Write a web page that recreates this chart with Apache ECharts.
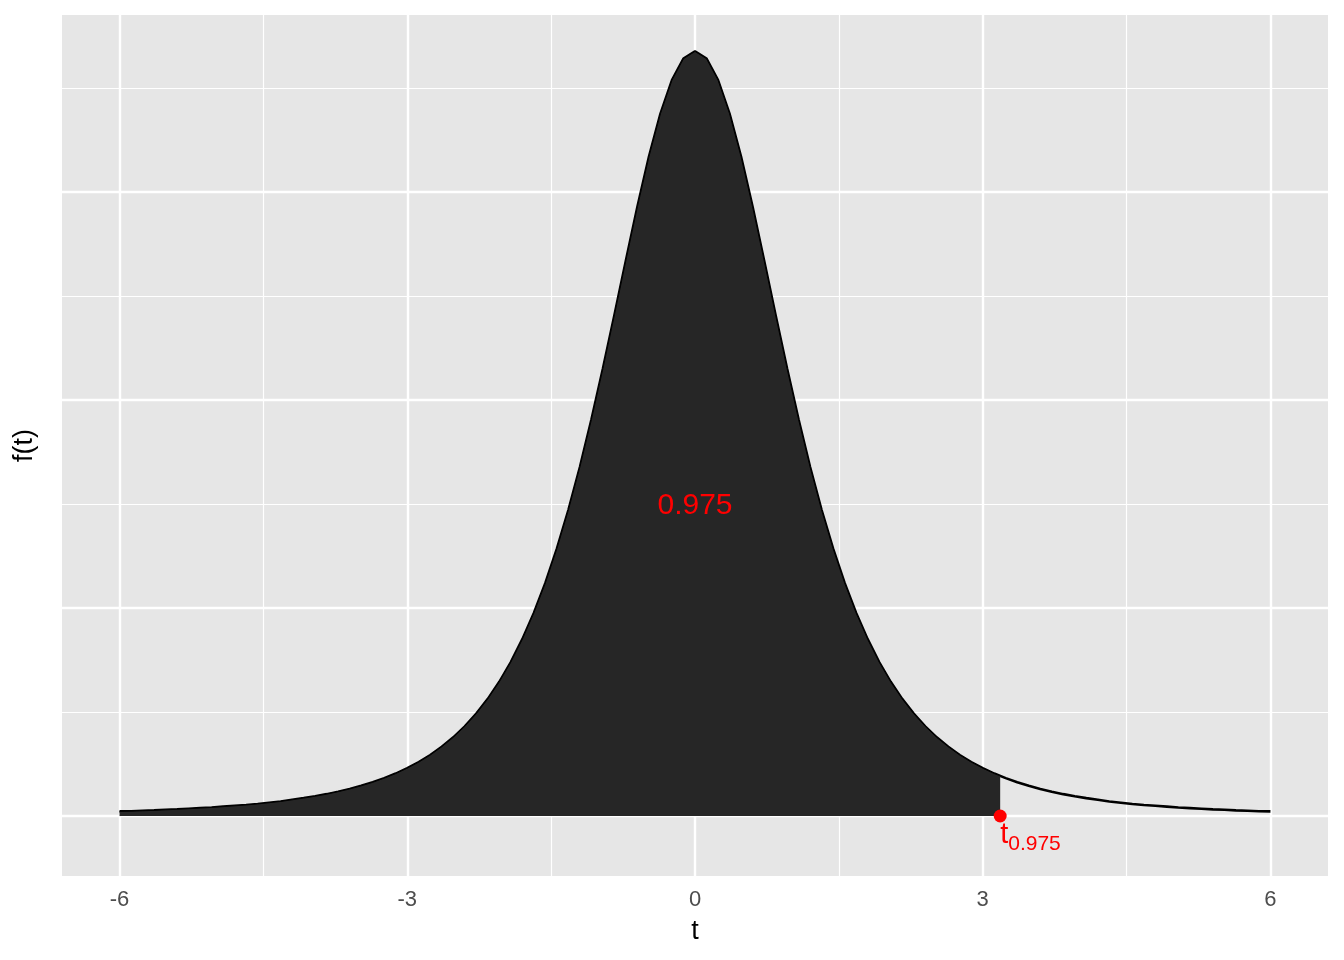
<!DOCTYPE html>
<html>
<head>
<meta charset="utf-8">
<script src="https://cdn.jsdelivr.net/npm/echarts@6/dist/echarts.min.js"></script>
<style>html,body{margin:0;padding:0;background:#fff}#c{width:1344px;height:960px}</style>
</head>
<body>
<div id="c"></div>
<script>
// t values (grid of the drawn curve)
const tValues = [-6.00,-5.88,-5.76,-5.64,-5.52,-5.40,-5.28,-5.16,-5.04,-4.92,-4.80,-4.68,-4.56,-4.44,-4.32,-4.20,-4.08,-3.96,-3.84,-3.72,-3.60,-3.48,-3.36,-3.24,-3.12,-3.00,-2.88,-2.76,-2.64,-2.52,-2.40,-2.28,-2.16,-2.04,-1.92,-1.80,-1.68,-1.56,-1.44,-1.32,-1.20,-1.08,-0.96,-0.84,-0.72,-0.60,-0.48,-0.36,-0.24,-0.12,0.00,0.12,0.24,0.36,0.48,0.60,0.72,0.84,0.96,1.08,1.20,1.32,1.44,1.56,1.68,1.80,1.92,2.04,2.16,2.28,2.40,2.52,2.64,2.76,2.88,3.00,3.12,3.24,3.36,3.48,3.60,3.72,3.84,3.96,4.08,4.20,4.32,4.44,4.56,4.68,4.80,4.92,5.04,5.16,5.28,5.40,5.52,5.64,5.76,5.88,6.00];
// density f(t)
const density = [0.0022,0.0023,0.0025,0.0027,0.0030,0.0032,0.0035,0.0038,0.0041,0.0045,0.0049,0.0053,0.0058,0.0064,0.0070,0.0078,0.0086,0.0095,0.0105,0.0117,0.0130,0.0145,0.0162,0.0182,0.0204,0.0230,0.0259,0.0293,0.0333,0.0378,0.0431,0.0492,0.0563,0.0645,0.0740,0.0850,0.0976,0.1120,0.1285,0.1471,0.1678,0.1906,0.2151,0.2409,0.2672,0.2930,0.3170,0.3377,0.3538,0.3641,0.3676,0.3641,0.3538,0.3377,0.3170,0.2930,0.2672,0.2409,0.2151,0.1906,0.1678,0.1471,0.1285,0.1120,0.0976,0.0850,0.0740,0.0645,0.0563,0.0492,0.0431,0.0378,0.0333,0.0293,0.0259,0.0230,0.0204,0.0182,0.0162,0.0145,0.0130,0.0117,0.0105,0.0095,0.0086,0.0078,0.0070,0.0064,0.0058,0.0053,0.0049,0.0045,0.0041,0.0038,0.0035,0.0032,0.0030,0.0027,0.0025,0.0023,0.0022];
// critical value and its density
const tCrit = 3.182;
const densityAtCrit = 0.0193;
const areaLabel = '0.975';
const areaLabelPos = [0, 0.149];
const critLabelSub = '0.975';
// axis breaks
const xTickLabels = [-6, -3, 0, 3, 6];
const xMinorBreaks = [-4.5, -1.5, 1.5, 4.5];
const yMajorBreaks = [0, 0.1, 0.2, 0.3];
const yMinorBreaks = [0.05, 0.15, 0.25, 0.35];

const curve = tValues.map((t, i) => [t, density[i]]);
const shaded = curve.filter(p => p[0] <= tCrit).concat([[tCrit, densityAtCrit]]);

const FONT = '"Liberation Sans", Arial, Helvetica, sans-serif';
const minorStyle = {color: '#ffffff', width: 1.2, type: 'solid'};
const majorStyle = {color: '#ffffff', width: 2.4, type: 'solid'};
const gridLines = []
  .concat(xMinorBreaks.map(v => ({xAxis: v, lineStyle: minorStyle})))
  .concat(yMinorBreaks.map(v => ({yAxis: v, lineStyle: minorStyle})))
  .concat(xTickLabels.map(v => ({xAxis: v, lineStyle: majorStyle})))
  .concat(yMajorBreaks.map(v => ({yAxis: v, lineStyle: majorStyle})));

const chart = echarts.init(document.getElementById('c'), null, {renderer: 'canvas'});
chart.setOption({
  animation: false,
  backgroundColor: '#ffffff',
  textStyle: {fontFamily: FONT},
  grid: {left: 62, right: 16, top: 15, bottom: 84, show: true, backgroundColor: '#e6e6e6', borderWidth: 0},
  xAxis: {
    type: 'value', min: -6.6, max: 6.6, interval: 0.6,
    name: 't', nameLocation: 'middle', nameGap: 42,
    nameTextStyle: {color: '#000000', fontSize: 27, fontFamily: FONT},
    axisLine: {show: false}, axisTick: {show: false}, splitLine: {show: false},
    axisLabel: {
      color: '#4d4d4d', fontSize: 22, margin: 13, fontFamily: FONT,
      formatter: v => { const m = xTickLabels.find(x => Math.abs(x - v) < 1e-6); return m === undefined ? '' : String(m); }
    }
  },
  yAxis: {
    type: 'value', min: -0.02885, max: 0.3851,
    name: 'f(t)', nameLocation: 'middle', nameGap: 24, nameRotate: 90,
    nameTextStyle: {color: '#000000', fontSize: 27, fontFamily: FONT},
    axisLine: {show: false}, axisTick: {show: false}, splitLine: {show: false},
    axisLabel: {show: false}
  },
  series: [
    {
      type: 'line', data: [], z: 1, zlevel: 0, silent: true,
      markLine: {silent: true, symbol: ['none', 'none'], label: {show: false}, animation: false, data: gridLines}
    },
    {
      type: 'line', data: curve, z: 2, zlevel: 1, symbol: 'none', smooth: false,
      lineStyle: {color: '#000000', width: 2.6}
    },
    {
      type: 'line', data: shaded, z: 3, zlevel: 1, symbol: 'none', smooth: false,
      lineStyle: {color: '#000000', width: 1},
      areaStyle: {color: '#262626', opacity: 1}
    },
    {
      type: 'scatter', z: 5, zlevel: 1, symbolSize: 13, itemStyle: {color: '#ff0000', opacity: 1},
      data: [[tCrit, 0]],
      label: {
        show: true, position: 'inside', align: 'left', verticalAlign: 'top', offset: [0, -1], opacity: 1,
        formatter: '{t|t}{s|' + critLabelSub + '}',
        rich: {
          t: {color: '#ff0000', fontSize: 29, lineHeight: 40, fontFamily: FONT},
          s: {color: '#ff0000', fontSize: 21, lineHeight: 25, verticalAlign: 'bottom', fontFamily: FONT}
        }
      }
    },
    {
      type: 'scatter', z: 5, zlevel: 1, symbolSize: 0, silent: true, itemStyle: {opacity: 1},
      data: [areaLabelPos],
      label: {show: true, position: 'inside', formatter: areaLabel, color: '#ff0000', opacity: 1, fontSize: 30, fontFamily: FONT}
    }
  ]
});
</script>
</body>
</html>
